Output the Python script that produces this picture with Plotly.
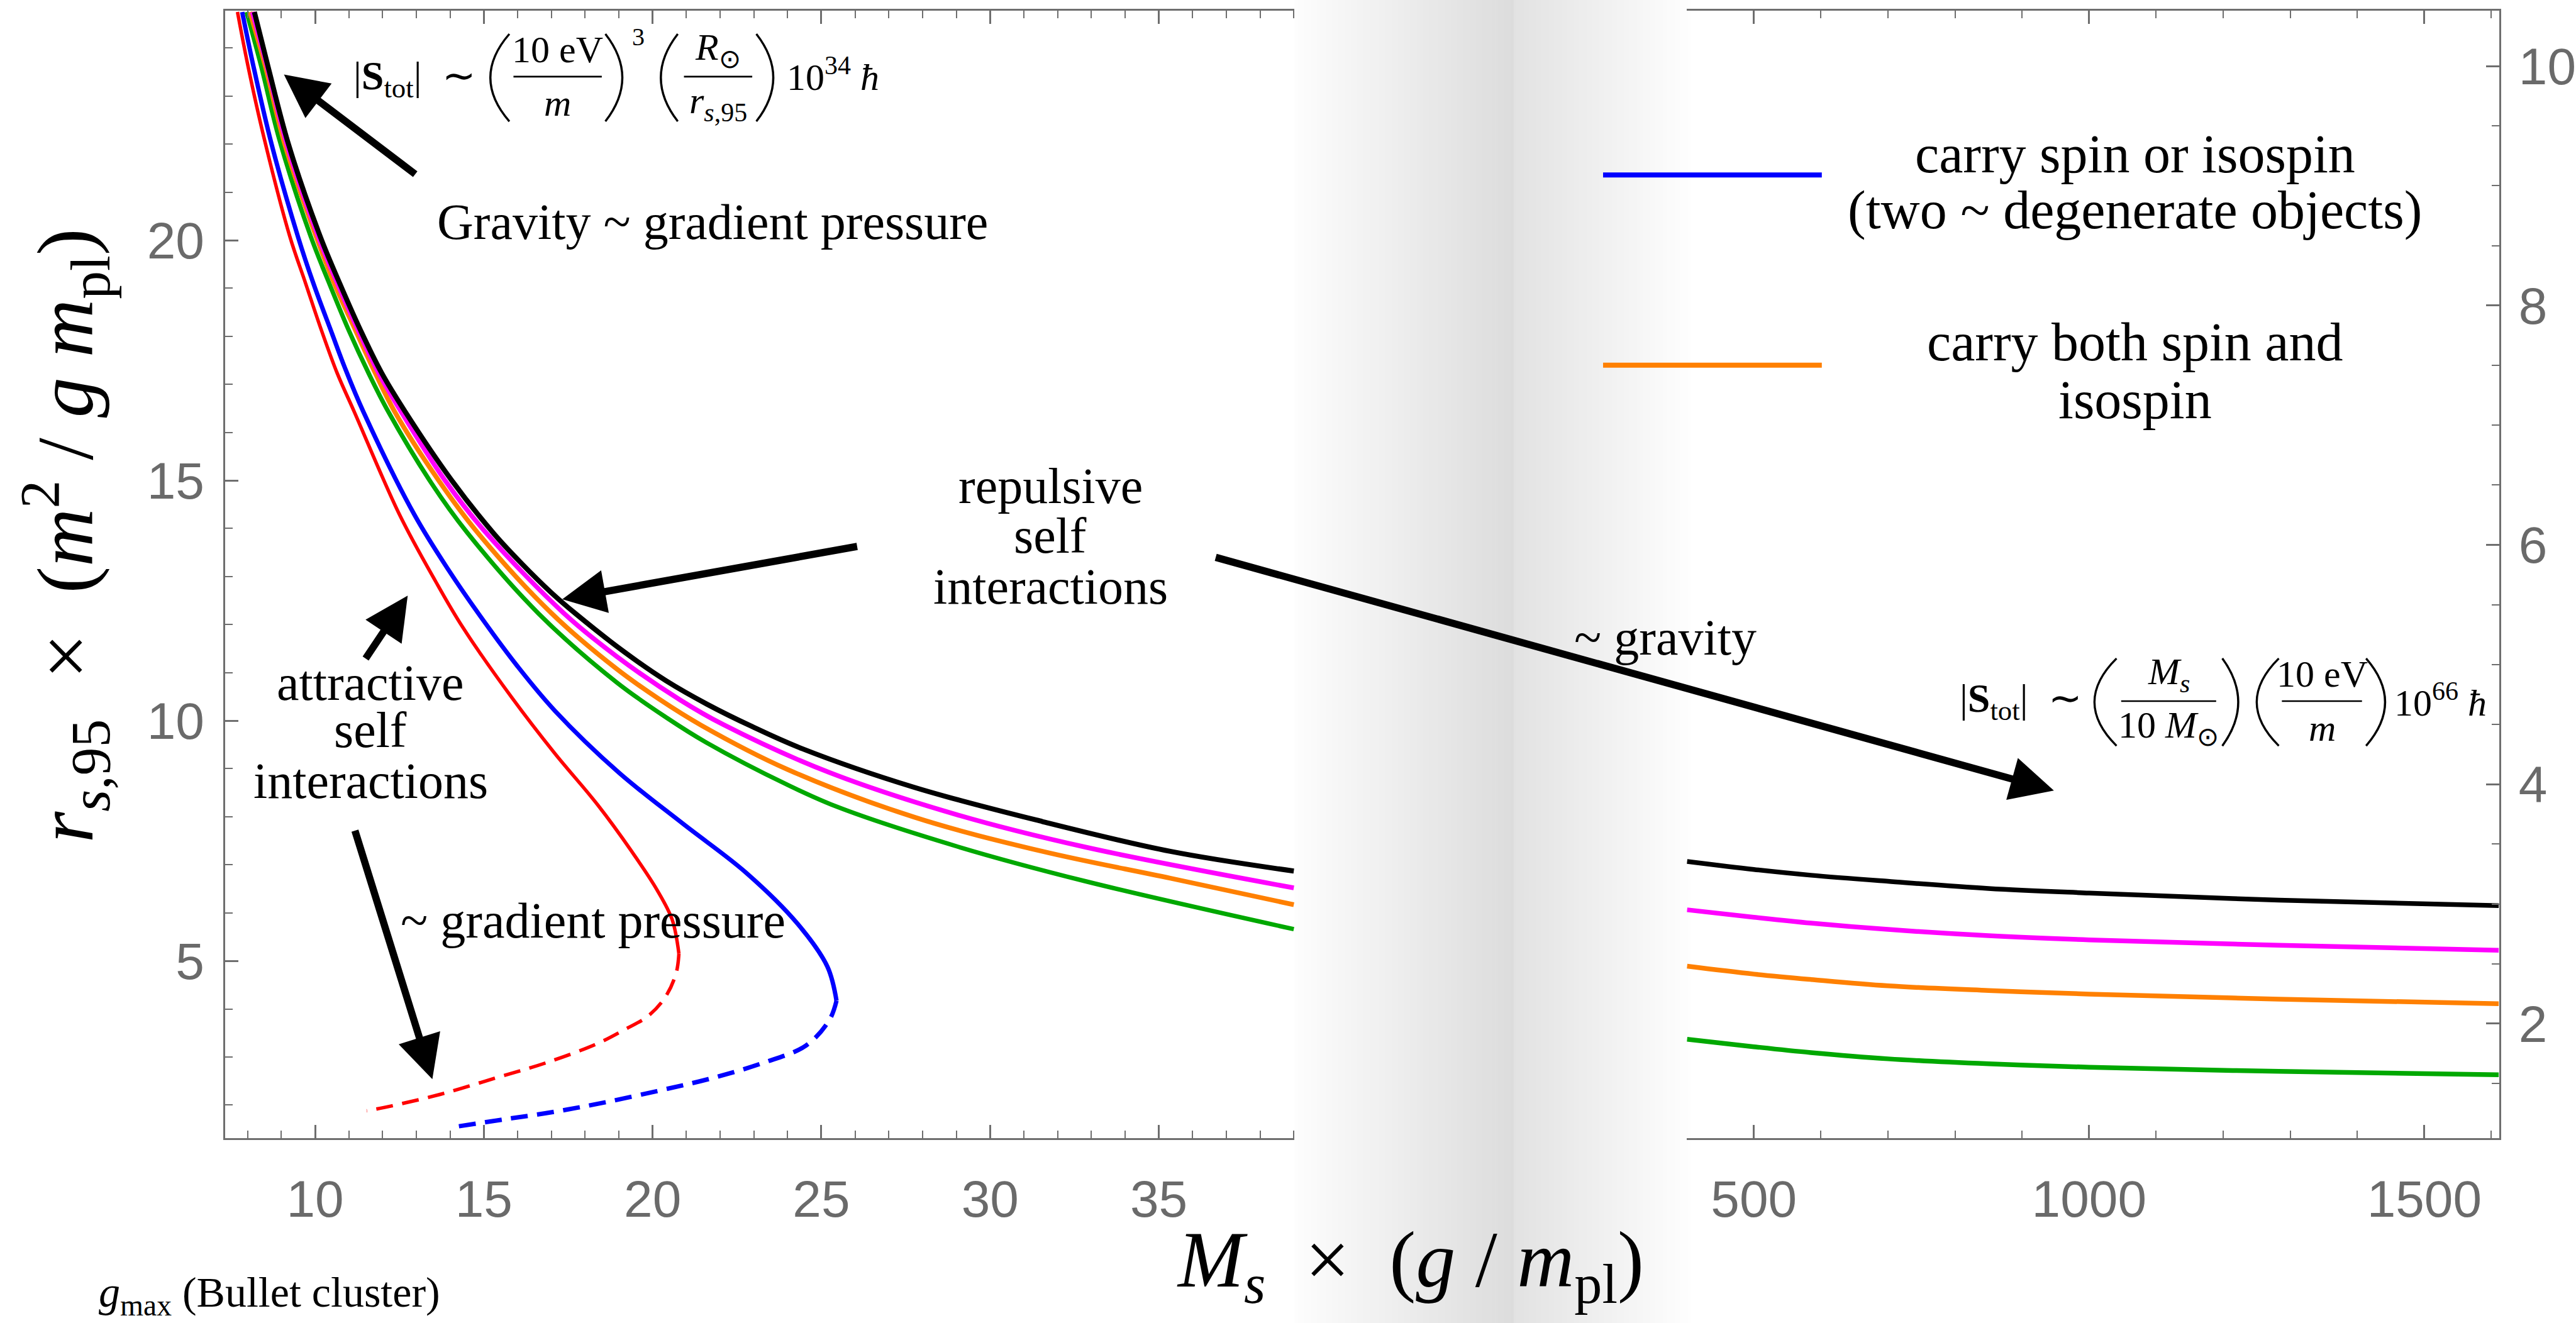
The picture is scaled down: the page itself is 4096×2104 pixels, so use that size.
import plotly.graph_objects as go

# ---------------- data ----------------
# Left panel (x: M_s x (g/m_pl), y: r_s,95 x (m^2/g m_pl))
black_x   = [8.20, 8.60, 9.21, 10.15, 10.73, 11.35, 11.97, 12.67, 14.05, 15.30, 16.12, 16.99, 17.73, 19.18, 20.40, 21.62, 22.94, 24.42, 27.76, 31.55, 35.34, 39.0]
black_y   = [24.75, 23.63, 22.0, 20.08, 19.1, 18.12, 17.24, 16.43, 15.0, 13.89, 13.27, 12.67, 12.22, 11.42, 10.83, 10.34, 9.88, 9.42, 8.61, 7.90, 7.28, 6.87]
magenta_x = [8.14, 8.57, 9.16, 10.09, 10.66, 11.28, 11.88, 12.55, 13.85, 15.04, 17.35, 18.93, 20.82, 22.09, 25.24, 29.03, 32.81, 39.0]
magenta_y = [24.75, 23.63, 22.0, 20.08, 19.1, 18.12, 17.24, 16.43, 15.0, 13.93, 12.25, 11.34, 10.43, 9.92, 8.92, 8.04, 7.37, 6.52]
orange_x  = [8.07, 8.52, 9.10, 10.03, 10.57, 11.20, 11.78, 12.36, 13.70, 14.82, 17.00, 18.93, 20.19, 21.45, 23.98, 27.76, 31.55, 35.34, 39.0]
orange_y  = [24.75, 23.63, 22.0, 20.08, 19.1, 18.12, 17.24, 16.43, 14.96, 13.91, 12.24, 11.08, 10.45, 9.90, 8.99, 7.99, 7.28, 6.72, 6.17]
green_x   = [7.97, 8.40, 8.94, 9.87, 10.42, 11.00, 11.58, 12.17, 13.45, 14.50, 16.62, 18.93, 20.44, 21.58, 23.98, 25.49, 29.03, 32.81, 39.0]
green_y   = [24.75, 23.63, 22.1, 20.08, 19.1, 18.12, 17.24, 16.43, 14.94, 13.92, 12.23, 10.80, 10.05, 9.55, 8.67, 8.20, 7.38, 6.66, 5.66]
blue_x    = [7.84, 8.17, 8.71, 9.49, 9.95, 10.50, 10.88, 11.43, 12.94, 13.95, 14.92, 16.00, 17.10, 19.00, 20.89, 22.78, 24.30, 25.18, 25.45]
blue_y    = [24.75, 23.63, 22.0, 20.08, 19.1, 18.06, 17.35, 16.43, 14.29, 13.14, 12.15, 11.13, 10.21, 8.92, 7.86, 6.83, 5.77, 4.88, 4.17]
blue_dash_x = [25.45, 25.24, 24.55, 23.29, 21.77, 20.26, 18.62, 17.10, 15.59, 14.10]
blue_dash_y = [4.17, 3.77, 3.24, 2.88, 2.56, 2.31, 2.06, 1.86, 1.70, 1.54]
red_x     = [7.70, 8.01, 8.48, 9.25, 9.72, 10.19, 10.65, 11.16, 12.50, 13.57, 14.36, 15.84, 17.10, 18.37, 19.38, 20.13, 20.58, 20.78]
red_y     = [24.75, 23.63, 22.15, 20.08, 19.1, 18.12, 17.24, 16.43, 14.29, 12.90, 11.96, 10.47, 9.32, 8.25, 7.28, 6.48, 5.86, 5.15]
red_dash_x = [20.78, 20.70, 20.39, 19.88, 19.12, 18.37, 16.85, 15.34, 13.70, 12.06, 11.53]
red_dash_y = [5.15, 4.75, 4.26, 3.86, 3.55, 3.28, 2.88, 2.56, 2.22, 1.95, 1.88]

# Right panel
right_x   = [400.4, 500, 585, 700, 850, 1000, 1283, 1611]
black_r   = [3.355, 3.288, 3.240, 3.189, 3.129, 3.091, 3.032, 2.986]
magenta_r = [2.951, 2.889, 2.840, 2.787, 2.735, 2.700, 2.655, 2.613]
orange_r  = [2.480, 2.414, 2.369, 2.316, 2.277, 2.247, 2.205, 2.166]
green_r   = [1.870, 1.807, 1.758, 1.706, 1.664, 1.636, 1.601, 1.573]

# ---------------- geometry helpers (reference pixel -> paper) ----------------
W_REF, H_REF = 5007.0, 2572.0
S = 4096.0 / W_REF


def px(fx):
    return fx / W_REF


def py(fy):
    return 1.0 - fy / H_REF


SERIF = "Liberation Serif, Times New Roman, serif"
TICKFONT = dict(family="Liberation Sans Narrow, Arial Narrow, Liberation Sans, Arial", size=82, color="#6a6a6a")
AX = "#6e6e6e"
C_BLACK, C_MAG, C_OR, C_GR, C_BL, C_RED = "#000000", "#ff00ff", "#ff8000", "#00a800", "#0000ff", "#ff0000"
DASH = "27px,15px"

fig = go.Figure()


def line(x, y, color, width, dash="solid", xa="x", ya="y"):
    fig.add_trace(go.Scatter(x=x, y=y, mode="lines", xaxis=xa, yaxis=ya,
                             line=dict(color=color, width=width, dash=dash, shape="spline", smoothing=1.0),
                             showlegend=False, hoverinfo="skip"))


line(green_x, green_y, C_GR, 7)
line(orange_x, orange_y, C_OR, 7.5)
line(magenta_x, magenta_y, C_MAG, 7.5)
line(black_x, black_y, C_BLACK, 8)
line(red_x, red_y, C_RED, 5.5)
line(red_dash_x, red_dash_y, C_RED, 5.5, dash=DASH)
line(blue_x, blue_y, C_BL, 7)
line(blue_dash_x, blue_dash_y, C_BL, 7, dash=DASH)

line(right_x, black_r, C_BLACK, 7.5, xa="x2", ya="y2")
line(right_x, magenta_r, C_MAG, 7.5, xa="x2", ya="y2")
line(right_x, orange_r, C_OR, 7.5, xa="x2", ya="y2")
line(right_x, green_r, C_GR, 7.5, xa="x2", ya="y2")

shapes = []


def grey(v):
    v = int(round(v))
    return "rgb(%d,%d,%d)" % (v, v, v)


# gradient "break" band between the panels
N = 70
xL0, xMid, xR1 = 2521.0, 2948.0, 3292.0
for i in range(N):
    a = xL0 + (xMid - xL0) * i / N
    b = xL0 + (xMid - xL0) * (i + 1) / N
    t = (i + 0.5) / N
    shapes.append(dict(type="rect", xref="paper", yref="paper", x0=px(a), x1=px(b) + 0.0002, y0=0, y1=1,
                       fillcolor=grey(253 - (253 - 220) * t), line=dict(width=0), layer="below"))
for i in range(N):
    a = xMid + (xR1 - xMid) * i / N
    b = xMid + (xR1 - xMid) * (i + 1) / N
    t = (i + 0.5) / N
    shapes.append(dict(type="rect", xref="paper", yref="paper", x0=px(a), x1=px(b) + 0.0002, y0=0, y1=1,
                       fillcolor=grey(226 + (254 - 226) * t), line=dict(width=0), layer="below"))

# legend lines
shapes.append(dict(type="line", xref="paper", yref="paper", x0=px(3122), x1=px(3548), y0=py(340), y1=py(340),
                   line=dict(color=C_BL, width=8)))
shapes.append(dict(type="line", xref="paper", yref="paper", x0=px(3122), x1=px(3548), y0=py(710), y1=py(710),
                   line=dict(color=C_OR, width=8)))

annotations = []


def txt(text, fx, fy, size, xanchor="center", yanchor="middle", angle=0):
    annotations.append(dict(text=text, x=px(fx), y=py(fy), xref="paper", yref="paper", showarrow=False,
                            xanchor=xanchor, yanchor=yanchor, textangle=angle,
                            font=dict(family=SERIF, size=size, color="black")))


def paren(x_end, x_bulge, y_top, y_bot, w=3.4):
    xc = x_end - 2 * (x_end - x_bulge)
    path = "M %f,%f Q %f,%f %f,%f" % (px(x_end), py(y_top), px(xc), py((y_top + y_bot) / 2), px(x_end), py(y_bot))
    shapes.append(dict(type="path", xref="paper", yref="paper", path=path, line=dict(color="black", width=w)))


def frac(num, den, x0, x1, y_line, dy, size):
    shapes.append(dict(type="line", xref="paper", yref="paper", x0=px(x0), x1=px(x1), y0=py(y_line), y1=py(y_line),
                       line=dict(color="black", width=2.6)))
    txt(num, (x0 + x1) / 2, y_line - dy, size)
    txt(den, (x0 + x1) / 2, y_line + dy, size)


def arrow(tail, tip):
    annotations.append(dict(x=px(tip[0]), y=py(tip[1]), xref="paper", yref="paper",
                            ax=(tail[0] - tip[0]) * S, ay=(tail[1] - tip[1]) * S, axref="pixel", ayref="pixel",
                            text="", showarrow=True, arrowhead=2, arrowsize=1.2, arrowwidth=11.5,
                            arrowcolor="black", standoff=0))


FS = 60
# formula 1
txt("|<b>S</b><sub>tot</sub>|\u2002∼", 930, 153, FS + 4, xanchor="right")
paren(992, 955, 66, 236)
frac("10 eV", "<i>m</i>", 1000, 1172, 149, 52, FS)
paren(1179, 1212, 66, 236)
txt("3", 1243, 72, 40)
paren(1320, 1287, 66, 236)
frac("<i>R</i><sub>⊙</sub>", "<i>r</i><sub><i>s</i>,95</sub>", 1332, 1465, 149, 52, FS)
paren(1473, 1506, 66, 236)
txt("10<sup>34</sup> <i>ħ</i>", 1530, 145, FS, xanchor="left")

# formula 2
txt("|<b>S</b><sub>tot</sub>|\u2002∼", 4058, 1363, FS + 4, xanchor="right")
paren(4122, 4079, 1280, 1450)
frac("<i>M</i><sub><i>s</i></sub>", "10 <i>M</i><sub>⊙</sub>", 4131, 4316, 1363, 52, FS)
paren(4328, 4359, 1280, 1450)
paren(4438, 4395, 1280, 1450)
frac("10 eV", "<i>m</i>", 4444, 4600, 1363, 52, FS)
paren(4608, 4645, 1280, 1450)
txt("10<sup>66</sup> <i>ħ</i>", 4660, 1361, FS, xanchor="left")

TS = 80
txt("Gravity ~ gradient pressure", 1388, 432, TS)
txt("repulsive", 2046, 945, TS)
txt("self", 2046, 1041, TS)
txt("interactions", 2046, 1141, TS)
txt("attractive", 722, 1327, TS)
txt("self", 722, 1419, TS)
txt("interactions", 722, 1518, TS)
txt("~ gradient pressure", 1155, 1790, TS)
txt("~ gravity", 3243, 1240, TS)

LS = 86
txt("carry spin or isospin", 4158, 300, LS)
txt("(two ~ degenerate objects)", 4158, 408, LS)
txt("carry both spin and", 4158, 665, LS)
txt("isospin", 4158, 777, LS)

txt("<i>g</i><sub>max</sub> (Bullet cluster)", 525, 2518, 68)

# axis titles (as annotations for exact placement)
txt("<i>M</i><sub><i>s</i></sub>\u2002×\u2002(<i>g</i> / <i>m</i><sub>pl</sub>)", 2747, 2460, 126)
txt("<i>r</i><sub><i>s</i>,95</sub>\u2002×\u2002(<i>m</i><sup>2</sup> / <i>g m</i><sub>pl</sub>)", 126, 1041, 128, angle=-90)

# arrows
arrow((810, 340), (553, 145))
arrow((1670, 1062), (1095, 1165))
arrow((2369, 1083), (4000, 1537))
arrow((711, 1282), (794, 1158))
arrow((691, 1613), (842, 2098))


def axis_common(dtick, minor_dtick, standoff):
    return dict(showline=True, linecolor=AX, linewidth=2.5, ticks="inside", ticklen=21, tickwidth=2.5,
                tickcolor=AX, dtick=dtick, tick0=0, showgrid=False, zeroline=False, tickfont=TICKFONT,
                ticklabelstandoff=standoff,
                minor=dict(dtick=minor_dtick, tick0=0, ticklen=12, tickwidth=2, tickcolor=AX, ticks="inside",
                           showgrid=False))


y_dom = [py(2212), py(21)]
xa1 = axis_common(5, 1, 24)
xa1.update(domain=[px(438.5), px(2521)], range=[7.335, 39.02], anchor="y", mirror="ticks")
ya1 = axis_common(5, 1, 14)
ya1.update(domain=y_dom, range=[1.317, 24.775], anchor="x")
xa2 = axis_common(500, 100, 24)
xa2.update(domain=[px(3285), px(4867)], range=[399.9, 1611.5], anchor="y2", mirror="ticks")
ya2 = axis_common(2, 0.5, 12)
ya2.update(domain=y_dom, range=[1.046, 10.462], anchor="x2", side="right")

fig.update_layout(
    width=4096, height=2104, autosize=False,
    margin=dict(l=0, r=0, t=0, b=0, pad=0),
    paper_bgcolor="white", plot_bgcolor="rgba(0,0,0,0)",
    xaxis=xa1, yaxis=ya1, xaxis2=xa2, yaxis2=ya2,
    shapes=shapes, annotations=annotations,
    showlegend=False, hovermode=False,
)

fig.write_html("out.html", config={"displayModeBar": False})
